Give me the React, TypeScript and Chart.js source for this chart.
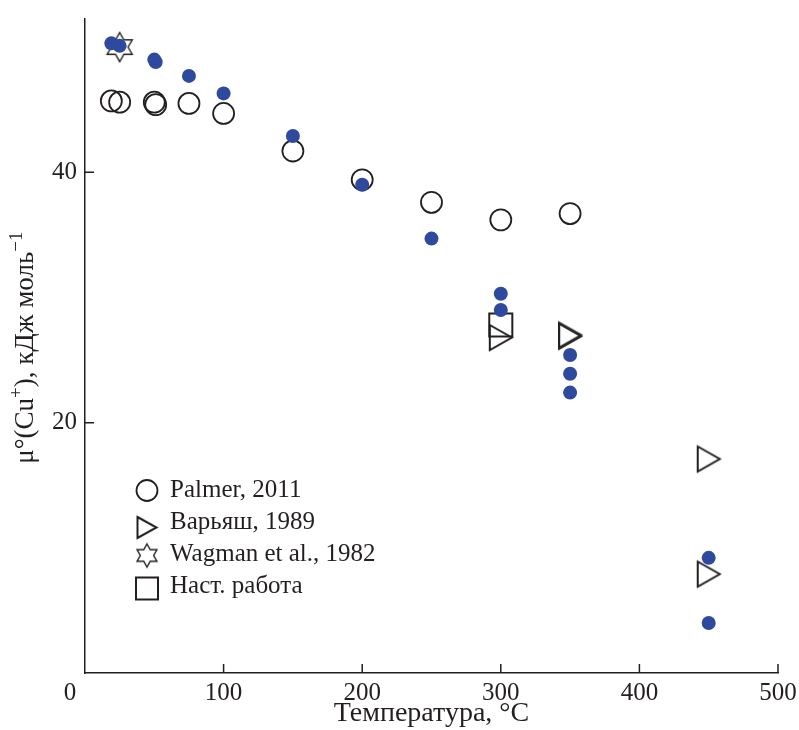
import React, { useEffect, useRef } from 'react';
import { Chart, registerables } from 'chart.js';

Chart.register(...registerables);

// ---- data ----
const xTickValues = [0, 100, 200, 300, 400, 500];
const yTickValues = [0, 20, 40];

const palmerT = [19, 25, 50, 51, 75, 100, 150, 200, 250, 300, 350];
const palmerMu = [45.7, 45.6, 45.6, 45.4, 45.5, 44.7, 41.7, 39.4, 37.6, 36.2, 36.7];

const varyashT = [300, 350, 350, 450, 450];
const varyashMu = [26.8, 27.0, 26.9, 17.1, 7.9];

const wagmanT = [25];
const wagmanMu = [50.0];

const workT = [300];
const workMu = [27.8];

const calcT = [19, 25, 50, 51, 75, 100, 150, 200, 250, 300, 300, 350, 350, 350, 450, 450];
const calcMu = [50.3, 50.1, 49.0, 48.8, 47.7, 46.3, 42.9, 39.0, 34.7, 30.3, 29.0, 25.4, 23.9, 22.4, 9.2, 4.0];

const legendLabels = ['Palmer, 2011', 'Варьяш, 1989', 'Wagman et al., 1982', 'Наст. работа'];
const xTitle = 'Температура, °C';

// ---- style ----
const FONT = "'Liberation Serif', 'Times New Roman', serif";
const INK = '#231f20';
const BLUE = '#2e4a9e';

function makeTriangle(w: number, h: number, lw: number) {
  const c = document.createElement('canvas');
  const pad = Math.ceil(lw) + 1;
  c.width = Math.round(w + 2 * pad);
  c.height = Math.round(h + 2 * pad);
  const ctx = c.getContext('2d')!;
  ctx.strokeStyle = INK;
  ctx.lineWidth = lw;
  ctx.lineJoin = 'miter';
  ctx.beginPath();
  ctx.moveTo(pad, pad);
  ctx.lineTo(pad + w, pad + h / 2);
  ctx.lineTo(pad, pad + h);
  ctx.closePath();
  ctx.stroke();
  return c;
}

function makeStar(R: number, lw: number) {
  const c = document.createElement('canvas');
  const size = Math.ceil(2 * R + 2 * lw + 2);
  c.width = size;
  c.height = size;
  const ctx = c.getContext('2d')!;
  const cx = size / 2;
  const cy = size / 2;
  const r = R / Math.sqrt(3);
  ctx.strokeStyle = INK;
  ctx.lineWidth = lw;
  ctx.lineJoin = 'miter';
  ctx.beginPath();
  for (let i = 0; i < 12; i++) {
    const a = -Math.PI / 2 + (i * Math.PI) / 6;
    const rad = i % 2 === 0 ? R : r;
    const px = cx + Math.cos(a) * rad;
    const py = cy + Math.sin(a) * rad;
    if (i === 0) ctx.moveTo(px, py);
    else ctx.lineTo(px, py);
  }
  ctx.closePath();
  ctx.stroke();
  return c;
}

export default function App() {
  const ref = useRef<HTMLCanvasElement>(null);

  useEffect(() => {
    const canvas = ref.current;
    if (!canvas) return;

    const triData = makeTriangle(22, 25, 2);
    const starData = makeStar(14.5, 1.4);
    const triLegend = makeTriangle(19, 21, 2);
    const starLegend = makeStar(11.5, 1.4);

    const toPts = (xs: number[], ys: number[]) => xs.map((v, i) => ({ x: v, y: ys[i] }));

    const decor = {
      id: 'decor',
      afterDraw(chart: any) {
        const { ctx } = chart;
        const xs = chart.scales.x;
        const ys = chart.scales.y;
        ctx.save();
        // inward tick marks
        ctx.strokeStyle = INK;
        ctx.lineWidth = 1.5;
        ctx.beginPath();
        xs.ticks.forEach((t: any) => {
          const px = xs.getPixelForValue(t.value);
          ctx.moveTo(px, xs.top);
          ctx.lineTo(px, xs.top - 9);
        });
        ys.ticks.forEach((t: any) => {
          const py = ys.getPixelForValue(t.value);
          ctx.moveTo(ys.right, py);
          ctx.lineTo(ys.right + 9, py);
        });
        ctx.stroke();

        // origin label "0"
        ctx.fillStyle = INK;
        ctx.font = `25px ${FONT}`;
        ctx.textAlign = 'center';
        ctx.textBaseline = 'middle';
        ctx.fillText(String(xTickValues[0]), xs.getPixelForValue(xTickValues[0]) - 15, xs.top + 5 + 15);

        // y-axis title with superscripts
        ctx.save();
        ctx.translate(33, (ys.top + ys.bottom) / 2 + 2);
        ctx.rotate(-Math.PI / 2);
        const parts = [
          { t: 'μ°(Cu', sup: false },
          { t: '+', sup: true },
          { t: '), кДж моль', sup: false },
          { t: '−1', sup: true },
        ];
        const mainFont = `27px ${FONT}`;
        const supFont = `19px ${FONT}`;
        let total = 0;
        const widths = parts.map((p) => {
          ctx.font = p.sup ? supFont : mainFont;
          const w = ctx.measureText(p.t).width;
          total += w;
          return w;
        });
        let cx = -total / 2;
        ctx.textAlign = 'left';
        ctx.textBaseline = 'alphabetic';
        parts.forEach((p, i) => {
          ctx.font = p.sup ? supFont : mainFont;
          ctx.fillText(p.t, cx, p.sup ? -11 : 0);
          cx += widths[i];
        });
        ctx.restore();

        // legend
        const lx = 147;
        const ly0 = 490.5;
        const step = 32;
        const entries = chart.data.datasets.filter((d: any) => d.legendKind);
        entries.forEach((d: any, i: number) => {
          const cy = ly0 + i * step;
          ctx.strokeStyle = INK;
          ctx.lineWidth = 1.8;
          if (d.legendKind === 'circle') {
            ctx.beginPath();
            ctx.arc(lx, cy, 10.5, 0, Math.PI * 2);
            ctx.stroke();
          } else if (d.legendKind === 'triangle') {
            ctx.drawImage(triLegend, lx - triLegend.width / 2, cy + 5 - triLegend.height / 2);
          } else if (d.legendKind === 'star') {
            ctx.drawImage(starLegend, lx - starLegend.width / 2, cy + 1 - starLegend.height / 2);
          } else if (d.legendKind === 'square') {
            ctx.lineWidth = 2;
            ctx.strokeRect(lx - 11, cy + 2 - 11, 22, 22);
          }
          ctx.fillStyle = INK;
          ctx.font = `25px ${FONT}`;
          ctx.textAlign = 'left';
          ctx.textBaseline = 'middle';
          ctx.fillText(d.label, 170, cy);
        });
        ctx.restore();
      },
    };

    const chart = new Chart(canvas, {
      type: 'scatter',
      data: {
        datasets: [
          {
            label: 'calc',
            data: toPts(calcT, calcMu),
            pointStyle: 'circle',
            pointRadius: 7,
            pointBackgroundColor: BLUE,
            pointBorderWidth: 0,
            pointBorderColor: BLUE,
            order: 0,
            clip: false,
          } as any,
          {
            label: legendLabels[0],
            legendKind: 'circle',
            data: toPts(palmerT, palmerMu),
            pointStyle: 'circle',
            pointRadius: 10.5,
            pointBackgroundColor: 'rgba(0,0,0,0)',
            pointBorderColor: INK,
            pointBorderWidth: 1.8,
            order: 1,
            clip: false,
          },
          {
            label: legendLabels[1],
            legendKind: 'triangle',
            data: toPts(varyashT, varyashMu),
            pointStyle: triData,
            pointRadius: 12,
            order: 2,
            clip: false,
          },
          {
            label: legendLabels[2],
            legendKind: 'star',
            data: toPts(wagmanT, wagmanMu),
            pointStyle: starData,
            pointRadius: 14,
            order: 3,
            clip: false,
          },
          {
            label: legendLabels[3],
            legendKind: 'square',
            data: toPts(workT, workMu),
            pointStyle: 'rect',
            pointRadius: 16.3,
            pointBackgroundColor: 'rgba(0,0,0,0)',
            pointBorderColor: INK,
            pointBorderWidth: 2,
            order: 4,
            clip: false,
          },
        ],
      },
      options: {
        responsive: false,
        maintainAspectRatio: false,
        animation: false,
        devicePixelRatio: 1,
        events: [],
        layout: { padding: { top: 14, right: 21, bottom: 0, left: 0 } },
        plugins: {
          legend: { display: false },
          tooltip: { enabled: false },
        },
        scales: {
          x: {
            type: 'linear',
            position: 'bottom',
            min: xTickValues[0],
            max: xTickValues[xTickValues.length - 1],
            afterFit: (s: any) => {
              s.height = 57;
              s.paddingLeft = 0;
              s.paddingRight = 0;
            },
            afterBuildTicks: (s: any) => {
              s.ticks = xTickValues.filter((v) => v !== 0).map((v) => ({ value: v }));
            },
            ticks: {
              font: { family: FONT, size: 25 },
              color: INK,
              padding: 5,
              maxRotation: 0,
              autoSkip: false,
            },
            grid: { display: false, drawTicks: false },
            border: { display: true, color: INK, width: 1.5 },
            title: {
              display: true,
              text: xTitle,
              font: { family: FONT, size: 28 },
              color: INK,
              padding: 0,
            },
          },
          y: {
            type: 'linear',
            position: 'left',
            min: 0,
            max: 52.3,
            afterFit: (s: any) => {
              s.width = 85;
              s.paddingTop = 0;
              s.paddingBottom = 0;
            },
            afterBuildTicks: (s: any) => {
              s.ticks = yTickValues.filter((v) => v !== 0).map((v) => ({ value: v }));
            },
            ticks: {
              font: { family: FONT, size: 25 },
              color: INK,
              padding: 8,
              autoSkip: false,
            },
            grid: { display: false, drawTicks: false },
            border: { display: true, color: INK, width: 1.5 },
          },
        },
      } as any,
      plugins: [decor],
    });

    return () => chart.destroy();
  }, []);

  return (
    <div style={{ position: 'fixed', left: 0, top: 0, width: 799, height: 730, background: '#fff' }}>
      <canvas ref={ref} width={799} height={730} style={{ display: 'block', width: 799, height: 730 }} />
    </div>
  );
}
